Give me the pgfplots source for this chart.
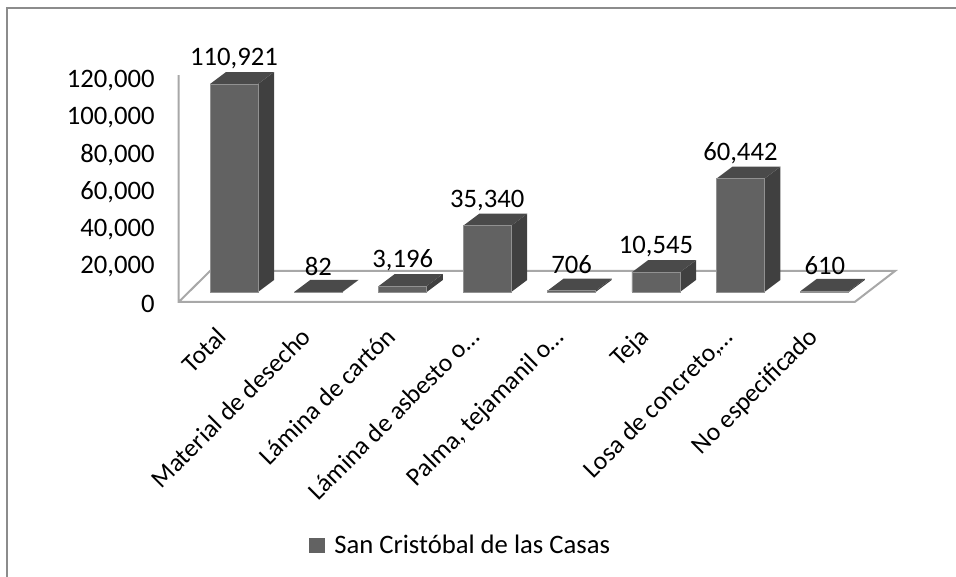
\documentclass[border=0pt]{standalone}
\usepackage{pgfplots}
\pgfplotsset{compat=1.18}
\usepackage{fontspec}
\setmainfont{Carlito}
\definecolor{front}{HTML}{626262}
\definecolor{topface}{HTML}{4A4A4A}
\definecolor{sideface}{HTML}{404040}
\definecolor{floorline}{HTML}{A8A8A8}
\definecolor{frameline}{HTML}{8C8C8C}
% one 3D bar behind the front face: category, value, value + depth (6400)
\newcommand{\barfaces}[3]{%
  \pgfmathsetmacro{\xl}{#1-0.2844}
  \pgfmathsetmacro{\xr}{#1+0.2844}
  \pgfmathsetmacro{\xlb}{\xl+0.1896}
  \pgfmathsetmacro{\xrb}{\xr+0.1896}
  \addplot[fill=sideface, draw=none, forget plot] coordinates {(\xr,0) (\xrb,6400) (\xrb,#3) (\xr,#2)} -- cycle;
  \addplot[fill=topface, draw=none, forget plot] coordinates {(\xl,#2) (\xr,#2) (\xrb,#3) (\xlb,#3)} -- cycle;
}
\begin{document}
\begin{tikzpicture}
  \useasboundingbox (0,0) rectangle (717pt,432.75pt);
  \draw[frameline, line width=1.5pt] (5.25pt,0) -- (5.25pt,426.4pt) -- (717pt,426.4pt);
  \begin{axis}[
    at={(135.75pt,206.25pt)}, anchor=south west,
    scale only axis, width=535.5pt, height=172.5pt,
    xmin=-0.628, xmax=7.832,
    ymin=-5333, ymax=117333,
    clip=false,
    axis line style={draw=none},
    tick style={draw=none},
    scaled y ticks=false,
    font=\fontsize{20}{24}\selectfont,
    xtick={0,...,7},
    xticklabels={Total, Material de desecho, Lámina de cartón, Lámina de asbesto o…, {Palma, tejamanil o…}, Teja, {Losa de concreto,…}, No especificado},
    xticklabel style={rotate=45, anchor=north east, inner sep=0pt, xshift=-22.4pt, yshift=-2.6pt, font=\fontsize{19.25}{23}\selectfont},
    ytick={-5333,14560,34453,54346,74239,94132,114025},
    yticklabels={0,{20,000},{40,000},{60,000},{80,000},{100,000},{120,000}},
    yticklabel style={anchor=east, xshift=-16.25pt, yshift=-1.5pt},
    legend style={at={(211.5pt,-182.5pt)}, anchor=center, draw=none, fill=none, inner sep=0pt, font=\fontsize{20}{24}\selectfont, legend cell align=left},
    legend image code/.code={\fill[front] (0cm,-5.6pt) rectangle (11.25pt,5.6pt); \path (15pt,0);},
    /pgf/number format/assume math mode=true,
  ]
    % floor and wall
    \addplot[floorline, line width=1.5pt, forget plot] coordinates {(-0.655,-5333) (-0.284,11200) (7.832,11200) (7.355,-5333) (-0.655,-5333) (-0.655,115700)};
    \barfaces{0}{110921}{117321}
    \barfaces{1}{82}{6482}
    \barfaces{2}{3196}{9596}
    \barfaces{3}{35340}{41740}
    \barfaces{4}{706}{7106}
    \barfaces{5}{10545}{16945}
    \barfaces{6}{60442}{66842}
    \barfaces{7}{610}{7010}
    \addplot[ybar, bar width=36pt, bar shift=0pt, fill=front, draw=front!70!white, line width=0.5pt,
      nodes near coords,
      every node near coord/.append style={anchor=center, yshift=19.25pt, font=\fontsize{20}{24}\selectfont, /pgf/number format/.cd, fixed, 1000 sep={,}, assume math mode=true}]
      coordinates {(0,110921) (1,82) (2,3196) (3,35340) (4,706) (5,10545) (6,60442) (7,610)};
    \addlegendentry{San Cristóbal de las Casas}
  \end{axis}
\end{tikzpicture}
\end{document}
